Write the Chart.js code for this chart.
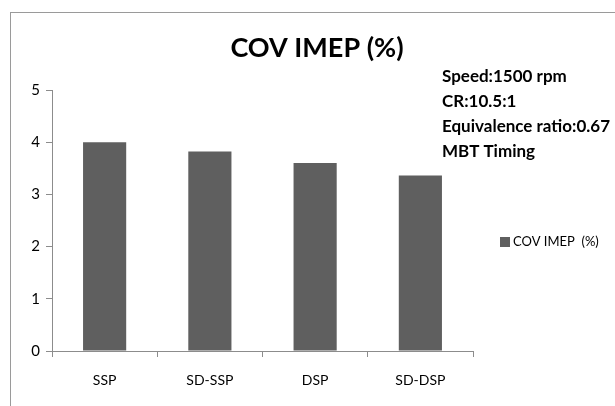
<!DOCTYPE html>
<html>
<head>
<meta charset="utf-8">
<script src="https://cdn.jsdelivr.net/npm/chart.js@4/dist/chart.umd.min.js"></script>
<style>
  html, body { margin: 0; padding: 0; background: #fff; }
  #wrap { width: 615px; height: 406px; position: relative; }
</style>
</head>
<body>
<div id="wrap"><canvas id="c" width="615" height="406"></canvas></div>
<script>
// Combustion stability by spark-plug configuration
const categories = ['SSP', 'SD-SSP', 'DSP', 'SD-DSP'];
const covImep = [4.0, 3.82, 3.6, 3.36];
const yTicks = [0, 1, 2, 3, 4, 5];
const seriesName = 'COV IMEP  (%)';
const chartTitle = 'COV IMEP (%)';
const conditions = ['Speed:1500 rpm', 'CR:10.5:1', 'Equivalence ratio:0.67', 'MBT Timing'];

const FONT = 'Lato, "Open Sans", sans-serif';
const AXIS = '#8c8c8c';
const BAR = '#5f5f5f';

// Frame, title, operating conditions and legend drawn around the plot
const decorations = {
  id: 'decorations',
  beforeDraw(chart) {
    const ctx = chart.ctx;
    ctx.save();
    ctx.strokeStyle = '#9a9a9a';
    ctx.lineWidth = 1;
    ctx.strokeRect(10.5, 12.5, 640, 420);
    ctx.restore();
  },
  afterDraw(chart) {
    const ctx = chart.ctx;
    ctx.save();
    ctx.fillStyle = '#000';
    ctx.textBaseline = 'middle';
    ctx.textAlign = 'center';
    ctx.font = 'bold 27px ' + FONT;
    ctx.fillText(chartTitle, 317, 48);

    ctx.textAlign = 'left';
    ctx.font = 'bold 17px ' + FONT;
    conditions.forEach((t, i) => ctx.fillText(t, 442, 77 + i * 25));

    ctx.fillStyle = BAR;
    ctx.fillRect(500, 237, 10, 10);
    ctx.fillStyle = '#000';
    ctx.font = '13px ' + FONT;
    ctx.fillText(seriesName, 513, 242);
    ctx.restore();
  }
};

new Chart(document.getElementById('c'), {
  type: 'bar',
  data: {
    labels: categories,
    datasets: [{
      label: seriesName,
      data: covImep,
      backgroundColor: BAR,
      borderWidth: 0,
      barPercentage: 0.41,
      categoryPercentage: 1.0
    }]
  },
  options: {
    responsive: false,
    animation: false,
    devicePixelRatio: 1,
    layout: { padding: { left: 0, right: 142, top: 90, bottom: 0 } },
    plugins: {
      legend: { display: false },
      title: { display: false },
      tooltip: { enabled: false }
    },
    scales: {
      x: {
        afterFit(s) { s.height = 55; },
        grid: { drawOnChartArea: false, tickLength: 6, color: AXIS, offset: true },
        border: { color: AXIS, width: 1 },
        ticks: { color: '#000', font: { family: FONT, size: 14 }, padding: 15, maxRotation: 0 }
      },
      y: {
        min: 0, max: 5,
        afterFit(s) { s.width = 52; },
        afterBuildTicks(s) { s.ticks = yTicks.map(v => ({ value: v })); },
        grid: { drawOnChartArea: false, tickLength: 6, color: AXIS },
        border: { color: AXIS, width: 1 },
        ticks: { color: '#000', font: { family: FONT, size: 15 }, padding: 6 }
      }
    }
  },
  plugins: [decorations]
});
</script>
</body>
</html>
